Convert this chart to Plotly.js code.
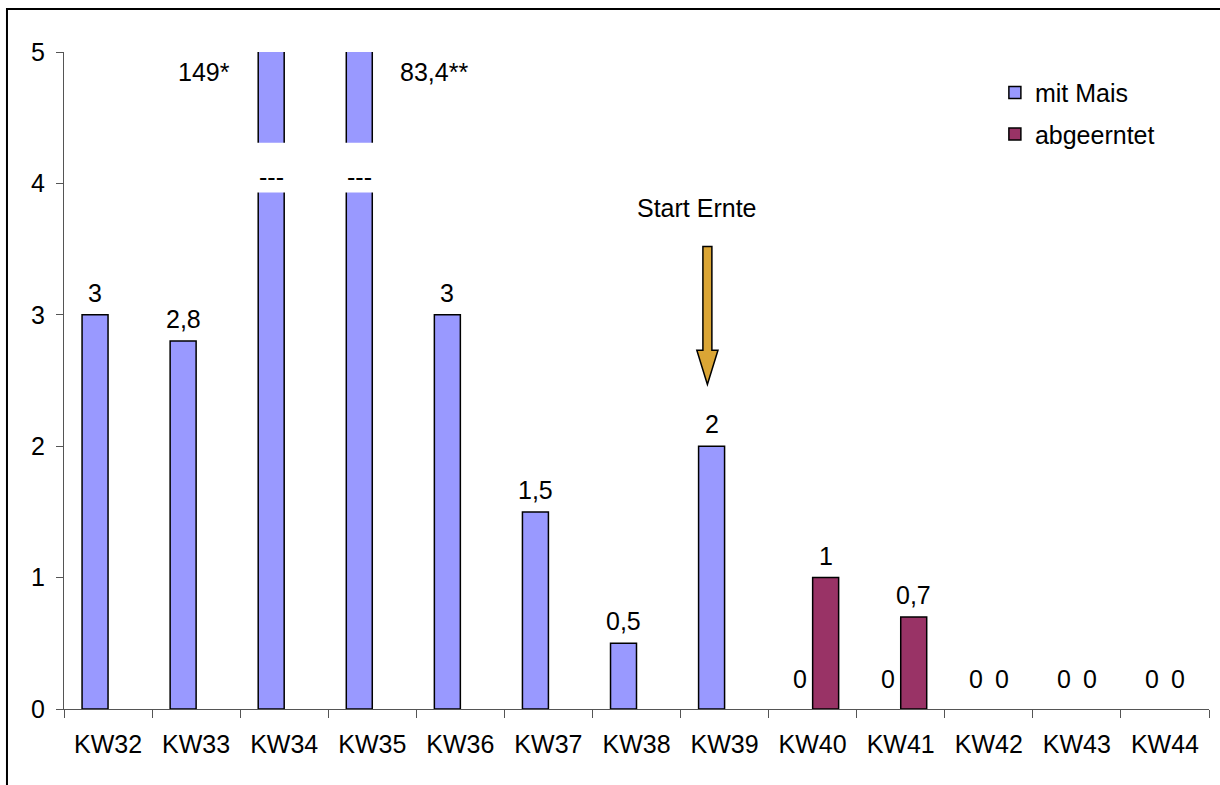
<!DOCTYPE html>
<html>
<head>
<meta charset="utf-8">
<script src="https://cdn.plot.ly/plotly-3.0.1.min.js"></script>
<style>html,body{margin:0;padding:0;background:#fff;}#chart{width:1220px;height:785px;}</style>
</head>
<body>
<div id="chart"></div>
<script>
// ---- data ----
const categories = ['KW32','KW33','KW34','KW35','KW36','KW37','KW38','KW39','KW40','KW41','KW42','KW43','KW44'];
const mitMais    = [3, 2.8, 149, 83.4, 3, 1.5, 0.5, 2, 0, 0, 0, 0, 0];
const abgeerntet = [null, null, null, null, null, null, null, null, 1, 0.7, 0, 0, 0];
const footnotes  = ['', '', '*', '**', '', '', '', '', '', '', '', '', ''];
const seriesNames = ['mit Mais', 'abgeerntet'];
const arrowLabel = 'Start Ernte';
const arrowCategory = 'KW39';

const FONT = 'Liberation Sans, Arial, Helvetica, sans-serif';
const FS = 25;
const YMAX = 5;
const BARGAP = 0.41;
const half = (1 - BARGAP) / 4;   // offset of each bar center from category center
const fmt = v => String(v).replace('.', ',');
const lineW = arr => arr.map(v => (v === 0) ? 0 : 1.5);

const traces = [
  {type:'bar', name:seriesNames[0], x:categories, y:mitMais,
   marker:{color:'#9999FF', line:{color:'#000', width:lineW(mitMais)}}, legend:'legend', hoverinfo:'skip'},
  {type:'bar', name:seriesNames[1], x:categories, y:abgeerntet,
   marker:{color:'#993366', line:{color:'#000', width:lineW(abgeerntet)}}, legend:'legend2', hoverinfo:'skip'}
];

const annotations = [];
const shapes = [];
[mitMais, abgeerntet].forEach((arr, s) => {
  const off = s === 0 ? -half : half;
  arr.forEach((v, i) => {
    if (v === null) return;
    const xc = i + off;
    if (v <= YMAX) {
      annotations.push({x:xc, y:v, xref:'x', yref:'y', text:fmt(v), showarrow:false,
        yanchor:'middle', yshift:(v === 0 ? 30 : 22), font:{family:FONT, size:FS, color:'#000'}});
    } else {
      // broken bar: label beside bar, white gap with dashes
      const left = footnotes[i] === '*';
      annotations.push({x: left ? xc - half : xc + half, y:4.85, xref:'x', yref:'y',
        text: fmt(v) + footnotes[i], showarrow:false,
        xanchor: left ? 'right' : 'left', xshift: left ? -26 : 26,
        font:{family:FONT, size:FS, color:'#000'}});
      shapes.push({type:'rect', xref:'x', yref:'y', x0:xc - half*1.4, x1:xc + half*1.4,
        y0:3.93, y1:4.31, fillcolor:'#fff', line:{width:0}, layer:'above'});
      annotations.push({x:xc, y:4.05, xref:'x', yref:'y', text:'---', showarrow:false,
        font:{family:FONT, size:FS, color:'#000'}});
    }
  });
});

// arrow "Start Ernte" (block arrow above KW39)
const ai = categories.indexOf(arrowCategory);
const ax = ai - 0.195;
const sw = 0.051, hw = 0.12;
const yTop = 3.52, yNeck = 2.73, yTip = 2.47;
shapes.push({type:'path', xref:'x', yref:'y', layer:'above',
  path:`M ${ax-sw} ${yTop} L ${ax+sw} ${yTop} L ${ax+sw} ${yNeck} L ${ax+hw} ${yNeck} L ${ax} ${yTip} L ${ax-hw} ${yNeck} L ${ax-sw} ${yNeck} Z`,
  fillcolor:'#DAA535', line:{color:'#000', width:1.5}});
annotations.push({x:ax - 0.12, y:3.81, xref:'x', yref:'y', text:arrowLabel, showarrow:false,
  font:{family:FONT, size:FS, color:'#000'}});

// outer frame
shapes.push({type:'rect', xref:'paper', yref:'paper', x0:-0.0498, x1:1.2, y0:-0.5, y1:1.0654,
  line:{color:'#000', width:2}, fillcolor:'rgba(0,0,0,0)', layer:'below'});

const layout = {
  width:1220, height:785,
  margin:{l:64, r:11, t:52, b:76},
  paper_bgcolor:'#fff', plot_bgcolor:'#fff',
  separators:',.',
  barmode:'group', bargap:BARGAP, bargroupgap:0,
  font:{family:FONT, size:FS, color:'#000'},
  xaxis:{type:'category', showgrid:false, zeroline:false, showline:true, linecolor:'#555', linewidth:1,
    ticks:'outside', ticklen:8, tickcolor:'#555', tickson:'boundaries', ticklabelstandoff:13,
    tickfont:{family:FONT, size:FS, color:'#000'}, automargin:false, fixedrange:true},
  yaxis:{range:[0, YMAX], showgrid:false, zeroline:false, showline:true, linecolor:'#555', linewidth:1,
    ticks:'outside', ticklen:7, tickcolor:'#555', dtick:1, ticklabelstandoff:6,
    tickfont:{family:FONT, size:FS, color:'#000'}, automargin:false, fixedrange:true},
  showlegend:true,
  legend:{x:0.813, y:0.973, xanchor:'left', yanchor:'top', bgcolor:'rgba(0,0,0,0)',
    font:{family:FONT, size:FS, color:'#000'}},
  legend2:{x:0.813, y:0.910, xanchor:'left', yanchor:'top', bgcolor:'rgba(0,0,0,0)',
    font:{family:FONT, size:FS, color:'#000'}},
  annotations:annotations,
  shapes:shapes
};

Plotly.newPlot('chart', traces, layout, {displayModeBar:false, staticPlot:true}).then(gd => {
  // legend swatches: keep the black outline like the bars
  gd.querySelectorAll('.legendpoints path').forEach(p => {
    p.style.stroke = '#000';
    p.style.strokeWidth = '1.5px';
  });
});
</script>
</body>
</html>
